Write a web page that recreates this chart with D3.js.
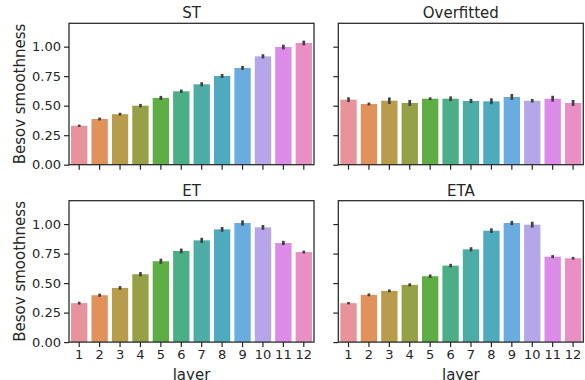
<!DOCTYPE html>
<html>
<head>
<meta charset="utf-8">
<script src="https://cdn.jsdelivr.net/npm/d3@7/dist/d3.min.js"></script>
<style>
  body { margin: 0; background: #fff; }
  svg text { font-family: "DejaVu Sans", sans-serif; fill: #262626; }
</style>
</head>
<body>
<div id="chart"></div>
<script>
const layers = ["1","2","3","4","5","6","7","8","9","10","11","12"];
const yTicks = [0, 0.25, 0.5, 0.75, 1.0];

const stMean = [0.33, 0.387, 0.428, 0.50, 0.566, 0.622, 0.681, 0.752, 0.82, 0.918, 0.997, 1.031];
const stErr  = [0.010, 0.012, 0.012, 0.015, 0.017, 0.015, 0.018, 0.017, 0.017, 0.018, 0.020, 0.020];

const ofMean = [0.551, 0.514, 0.542, 0.523, 0.559, 0.559, 0.540, 0.537, 0.574, 0.542, 0.559, 0.523];
const ofErr  = [0.020, 0.012, 0.028, 0.025, 0.012, 0.020, 0.018, 0.025, 0.025, 0.015, 0.025, 0.025];

const etMean = [0.33, 0.397, 0.459, 0.575, 0.685, 0.772, 0.862, 0.955, 1.009, 0.972, 0.84, 0.763];
const etErr  = [0.012, 0.013, 0.015, 0.018, 0.022, 0.020, 0.022, 0.020, 0.022, 0.020, 0.018, 0.012];

const etaMean = [0.33, 0.40, 0.434, 0.485, 0.558, 0.648, 0.786, 0.944, 1.009, 0.995, 0.724, 0.71];
const etaErr  = [0.010, 0.012, 0.012, 0.013, 0.015, 0.015, 0.018, 0.020, 0.018, 0.025, 0.013, 0.012];

const palette = ["#e8939b", "#e1915a", "#b99c4b", "#96a046", "#5eae45", "#4cae87",
                 "#4daca5", "#4eaabd", "#6aace0", "#b4a6e9", "#dd8be8", "#e88fc4"];

const panels = [
    {title: "ST",         mean: stMean,  err: stErr,  col: 0, row: 0},
    {title: "Overfitted", mean: ofMean,  err: ofErr,  col: 1, row: 0},
    {title: "ET",         mean: etMean,  err: etErr,  col: 0, row: 1},
    {title: "ETA",        mean: etaMean, err: etaErr, col: 1, row: 1}
];

const W = 585, H = 380;
const colX = [69, 338.3];
const rowY = [23.3, 200.7];
const pw = 245, ph = 141.4;

const svg = d3.select("#chart").append("svg")
    .attr("width", W)
    .attr("height", H);

const x = d3.scaleBand().domain(layers).range([0, pw]).paddingInner(0.2).paddingOuter(0.1);
const y = d3.scaleLinear().domain([0, 1.198]).range([ph, 0]);

panels.forEach(function(p) {
    const g = svg.append("g")
        .attr("transform", "translate(" + colX[p.col] + "," + rowY[p.row] + ")");

    // bars
    g.selectAll(".bar")
        .data(layers)
        .enter().append("rect")
        .attr("x", d => x(d))
        .attr("width", x.bandwidth())
        .attr("y", (d, i) => y(p.mean[i]))
        .attr("height", (d, i) => ph - y(p.mean[i]))
        .attr("fill", (d, i) => palette[i]);

    // error bars
    g.selectAll(".err")
        .data(layers)
        .enter().append("line")
        .attr("x1", d => x(d) + x.bandwidth() / 2)
        .attr("x2", d => x(d) + x.bandwidth() / 2)
        .attr("y1", (d, i) => y(p.mean[i] - p.err[i]))
        .attr("y2", (d, i) => y(p.mean[i] + p.err[i]))
        .attr("stroke", "#424242")
        .attr("stroke-width", 2.7);

    // x axis
    const xa = g.append("g")
        .attr("transform", "translate(0," + ph + ")")
        .call(d3.axisBottom(x).tickSize(5).tickPadding(3)
            .tickFormat(p.row === 1 ? null : ""));
    // y axis
    const ya = g.append("g")
        .call(d3.axisLeft(y).tickValues(yTicks).tickSize(5).tickPadding(3)
            .tickFormat(p.col === 0 ? d3.format(".2f") : ""));

    [xa, ya].forEach(a => {
        a.select(".domain").remove();
        a.selectAll("line").attr("stroke", "#262626").attr("stroke-width", 1.2);
        a.selectAll("text").style("font-size", "13px").attr("fill", "#262626");
    });

    // frame
    g.append("rect")
        .attr("width", pw)
        .attr("height", ph)
        .attr("fill", "none")
        .attr("stroke", "#262626")
        .attr("stroke-width", 1.25);

    g.append("text")
        .attr("x", pw / 2)
        .attr("y", -5)
        .attr("text-anchor", "middle")
        .style("font-size", "15px")
        .text(p.title);

    if (p.col === 0) {
        g.append("text")
            .attr("transform", "rotate(-90)")
            .attr("x", -ph / 2)
            .attr("y", -44.5)
            .attr("text-anchor", "middle")
            .style("font-size", "15px")
            .text("Besov smoothness");
    }
    if (p.row === 1) {
        g.append("text")
            .attr("x", pw / 2)
            .attr("y", ph + 37.5)
            .attr("text-anchor", "middle")
            .style("font-size", "15px")
            .text("layer");
    }
});
</script>
</body>
</html>
